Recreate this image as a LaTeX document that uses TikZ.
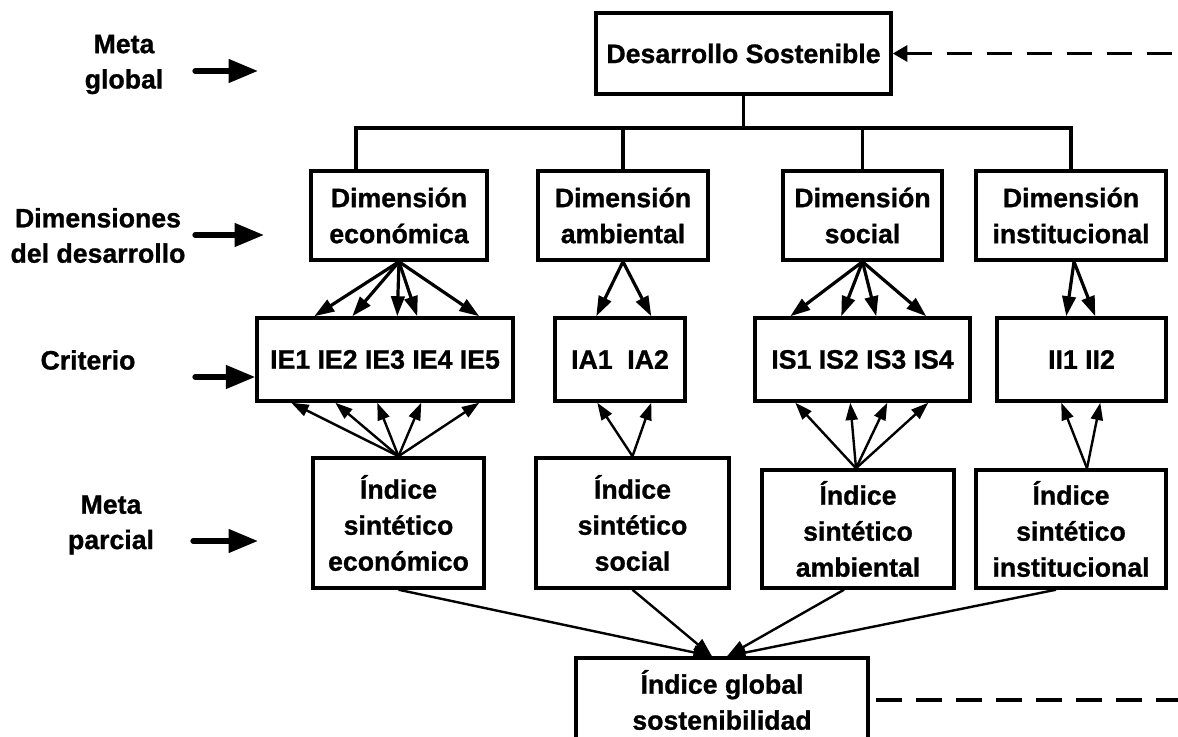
\documentclass[tikz,border=0pt]{standalone}
\usepackage{fontspec}
\setmainfont{Liberation Sans}[BoldFeatures={FakeBold=1}]
\usetikzlibrary{arrows.meta,calc}
\begin{document}
\begin{tikzpicture}[x=0.75pt,y=-0.75pt,
  nbox/.style={draw,line width=2.6pt,inner sep=0pt,align=center,font=\fontsize{20}{27}\selectfont\bfseries},
  sz/.style 2 args={minimum width={#1*0.75pt},minimum height={#2*0.75pt}},
  lbl/.style={align=center,inner sep=0pt,font=\fontsize{20}{26.5}\selectfont\bfseries},
  trunk/.style={line width=2.6pt},
  darr/.style={line width=2.4pt,-{Triangle[length=15pt,width=10pt]}},
  uarr/.style={line width=1.8pt,-{Triangle[length=13pt,width=9pt]}},
  garr/.style={line width=1.8pt,-{Triangle[length=14pt,width=10pt]}},
  bigarr/.style={line width=4pt,line cap=round,-{Triangle[length=22pt,width=17pt]}},
  dline/.style={line width=2.5pt,dash pattern=on 19pt off 11pt}
]
\path[use as bounding box,fill=white] (0,0) rectangle (1178,737);

% top
\node[nbox,sz={295}{81}] (ds) at (743.5,53.5) {Desarrollo Sostenible};

% dimensions
\node[nbox,sz={176}{89}] (d1) at (399,215.5) {Dimensión\\económica};
\node[nbox,sz={170}{89}] (d2) at (623,215.5) {Dimensión\\ambiental};
\node[nbox,sz={159}{89}] (d3) at (862.5,215.5) {Dimensión\\social};
\node[nbox,sz={190}{89}] (d4) at (1071,215.5) {Dimensión\\institucional};

% criteria
\node[nbox,sz={256}{83}] (c1) at (385,359.5) {IE1 IE2 IE3 IE4 IE5};
\node[nbox,sz={130}{83}] (c2) at (620,359.5) {IA1\hspace{0.55em}IA2};
\node[nbox,sz={215}{83}] (c3) at (862.5,359.5) {IS1 IS2 IS3 IS4};
\node[nbox,sz={169}{83}] (c4) at (1081.5,359.5) {II1 II2};

% partial indices
\node[nbox,sz={171}{130}] (i1) at (398.5,523) {Índice\\sintético\\económico};
\node[nbox,sz={193}{130}] (i2) at (632.5,523) {Índice\\sintético\\social};
\node[nbox,sz={192}{118}] (i3) at (858,529) {Índice\\sintético\\ambiental};
\node[nbox,sz={190}{118}] (i4) at (1071,529) {Índice\\sintético\\institucional};

% global index
\node[nbox,sz={292}{84}] (g) at (722,700) {Índice global\\sostenibilidad};

% tree connectors
\coordinate (bar) at (741,128);
\coordinate (e1) at ($(d1.north)+(-43,0)$);
\draw[trunk] (e1) -- (e1 |- bar) -- (d4.north |- bar) -- (d4.north);
\draw[trunk] (d2.north) -- (d2.north |- bar);
\draw[trunk] (d3.north) -- (d3.north |- bar);
\draw[trunk] (ds.south) -- (ds.south |- bar);

% dimension -> criteria
\foreach \dx in {59,97,142,162,224}
  \draw[darr] (d1.south) -- ($(c1.north west)+(\dx,0)$);
\foreach \dx in {43,98}
  \draw[darr] (d2.south) -- ($(c2.north west)+(\dx,0)$);
\foreach \dx in {37,88,123,173}
  \draw[darr] (d3.south) -- ($(c3.north west)+(\dx,0)$);
\coordinate (d4s) at ($(d4.south)+(3,0)$);
\foreach \dx in {71,100}
  \draw[darr] (d4s) -- ($(c4.north west)+(\dx,0)$);

% index -> criteria
\foreach \dx in {36,80,122,166,224}
  \draw[uarr] (i1.north) -- ($(c1.south west)+(\dx,0)$);
\foreach \dx in {44,98}
  \draw[uarr] (i2.north) -- ($(c2.south west)+(\dx,0)$);
\coordinate (i3n) at ($(i3.north)+(-2,0)$);
\foreach \dx in {42,97,134,175}
  \draw[uarr] (i3n) -- ($(c3.south west)+(\dx,0)$);
\coordinate (i4n) at ($(i4.north)+(16,0)$);
\foreach \dx in {66,105}
  \draw[uarr] (i4n) -- ($(c4.south west)+(\dx,0)$);

% index -> global
\coordinate (gl) at ($(g.north)+(-10,0)$);
\coordinate (gr) at ($(g.north)+(5,0)$);
\draw[garr] (i1.south) -- (gl);
\draw[garr] (i2.south) -- (gl);
\draw[garr] ($(i3.south)+(-14,0)$) -- (gr);
\draw[garr] ($(i4.south)+(-15,0)$) -- (gr);

% dashed feedback lines
\coordinate (r1) at (1178,53.5);
\coordinate (r2) at (1178,700);
\draw[dline,{Triangle[length=11pt,width=12pt]}-] (ds.east) -- (r1);
\draw[dline,shorten <=5pt] (g.east) -- (r2);

% left labels
\node[lbl] (l1) at (124,64.5) {Meta\\global};
\node[lbl] (l2) at (98,235.5) {Dimensiones\\del desarrollo};
\node[lbl] (l3) at (88,360) {Criterio};
\node[lbl] (l4) at (111,525) {Meta\\parcial};

\coordinate (a1s) at (195,71);  \coordinate (a1e) at (258,71);
\coordinate (a2s) at (195,235); \coordinate (a2e) at (264,235);
\coordinate (a3s) at (195,377);
\coordinate (a4s) at (193,541); \coordinate (a4e) at (258,541);
\draw[bigarr] (a1s) -- (a1e);
\draw[bigarr] (a2s) -- (a2e);
\draw[bigarr] (a3s) -- (a3s -| c1.west);
\draw[bigarr] (a4s) -- (a4e);
\end{tikzpicture}
\end{document}
